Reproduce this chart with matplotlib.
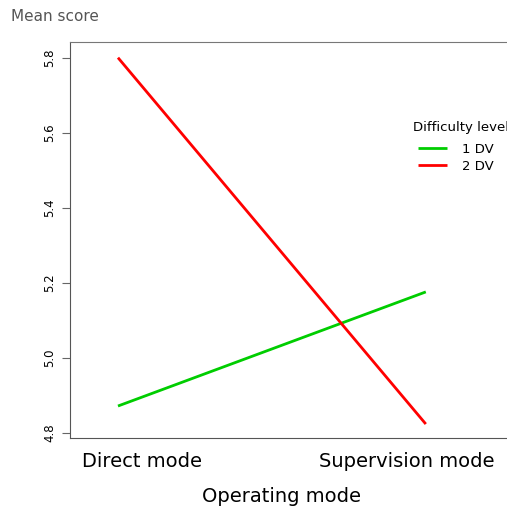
import matplotlib
matplotlib.use("Agg")
import matplotlib.pyplot as plt

plt.rcParams["font.family"] = "DejaVu Sans"

# 平均分數資料
modes = ["Direct mode", "Supervision mode"]
levels = ["1 DV", "2 DV"]
score_1dv = [4.872, 5.176]
score_2dv = [5.80, 4.824]
colors = ["#00CD00", "#FF0000"]

fig = plt.figure(figsize=(5.07, 5.11), dpi=100)
ax = fig.add_axes([0.138, 0.143, 0.884, 0.775])

x = [1, 2]
for vals, lab, c in zip([score_1dv, score_2dv], levels, colors):
    ax.plot(x, vals, color=c, lw=2, label=lab, solid_capstyle="butt")

ax.set_xlim(0.844, 2.30)
ax.set_ylim(4.787, 5.842)

# y軸刻度
ax.set_yticks([4.8, 5.0, 5.2, 5.4, 5.6, 5.8])
ax.set_yticklabels(["4.8", "5.0", "5.2", "5.4", "5.6", "5.8"], rotation=90,
                   va="center", fontsize=8.5)
ax.tick_params(axis="y", length=6, color="#666666", pad=4)

# x軸標籤
ax.set_xticks([1.078, 1.938])
ax.set_xticklabels(modes, fontsize=14)
ax.tick_params(axis="x", length=0, pad=10)
ax.set_xlabel("Operating mode", fontsize=14)
ax.xaxis.set_label_coords(0.473, -0.125)

for s in ax.spines.values():
    s.set_color("#777777")
ax.spines["left"].set_color("#555555")
ax.spines["bottom"].set_color("#555555")

fig.text(0.022, 0.968, "Mean score", fontsize=11, color="#555555",
         ha="left", va="center")

# 圖例
fig.text(413 / 507, 1 - 127 / 511, "Difficulty level", fontsize=9.5,
         ha="left", va="center")
leg = ax.legend(loc="upper left",
                bbox_to_anchor=(418 / 507, 1 - 143 / 511),
                bbox_transform=fig.transFigure, frameon=False, fontsize=9.5,
                handlelength=2.2, handletextpad=1.1,
                labelspacing=0.3, borderpad=0, borderaxespad=0)

fig.savefig("out.png", dpi=100)
